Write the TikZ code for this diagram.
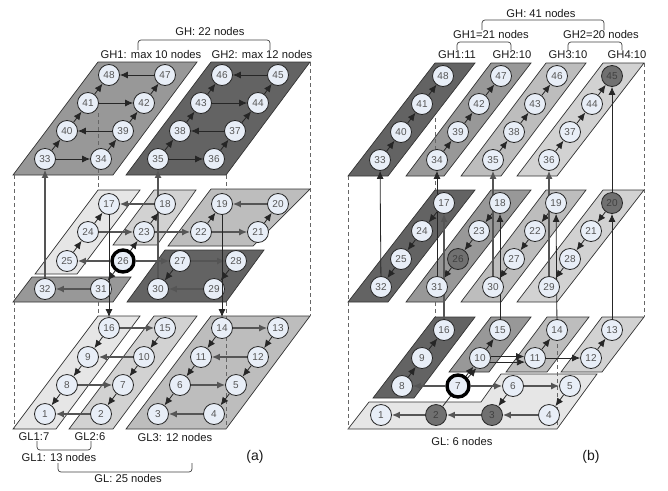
\documentclass[tikz,border=0pt]{standalone}
\usepackage{fontspec}
\setmainfont{Liberation Sans}
\usetikzlibrary{arrows.meta,backgrounds}
\definecolor{PlateLight}{HTML}{E6E6E6}
\definecolor{PlateSoft}{HTML}{D2D2D2}
\definecolor{PlateMid}{HTML}{BDBDBD}
\definecolor{PlateDeep}{HTML}{989898}
\definecolor{PlateDark}{HTML}{636363}
\definecolor{CellBlue}{HTML}{E8EEF7}
\definecolor{CellDark}{HTML}{707070}
\definecolor{InkGray}{HTML}{555555}

\begin{document}
\begin{tikzpicture}[
  x=1pt, y=-1pt,
  cell/.style={circle, draw=black!85, fill=CellBlue, line width=.8pt, minimum size=21pt, inner sep=0pt, text=InkGray, font=\fontsize{10}{11}\selectfont},
  darkcell/.style={cell, fill=CellDark, text=black!75},
  startcell/.style={cell, draw=black, line width=3.4pt, minimum size=22pt},
  plate/.style={draw=black!80, line width=.7pt},
  guide/.style={draw=black!60, line width=.7pt, dash pattern=on 4pt off 3pt},
  arr/.style={draw=black!85, line width=.8pt, -{Latex[length=8pt,width=7pt]}},
  hop/.style={draw=InkGray, line width=1.3pt, -{Latex[length=8pt,width=7pt]}},
  brk/.style={draw=black!75, line width=.7pt, rounded corners=3pt},
  lab/.style={inner sep=0pt, text=black!90, font=\fontsize{11.2}{12}\selectfont},
  panelcap/.style={inner sep=0pt, text=black!90, font=\fontsize{14}{15}\selectfont}
]
\useasboundingbox (0,0) rectangle (668,490);

% (a) top layer
\node[cell] (a48) at (109,75) {48}; \node[cell] (a47) at (165,75) {47}; \node[cell] (a46) at (222,75) {46}; \node[cell] (a45) at (278,75) {45};
\node[cell] (a41) at (88,103) {41}; \node[cell] (a42) at (144,103) {42}; \node[cell] (a43) at (201,103) {43}; \node[cell] (a44) at (258,103) {44};
\node[cell] (a40) at (67,131) {40}; \node[cell] (a39) at (123,131) {39}; \node[cell] (a38) at (180,131) {38}; \node[cell] (a37) at (235,131) {37};
\node[cell] (a33) at (45,159) {33}; \node[cell] (a34) at (101,159) {34}; \node[cell] (a35) at (158,159) {35}; \node[cell] (a36) at (214,159) {36};
% (a) middle layer
\node[cell] (a17) at (109,204) {17}; \node[cell] (a18) at (165,204) {18}; \node[cell] (a19) at (222,204) {19}; \node[cell] (a20) at (278,204) {20};
\node[cell] (a24) at (88,232) {24}; \node[cell] (a23) at (144,232) {23}; \node[cell] (a22) at (201,232) {22}; \node[cell] (a21) at (258,232) {21};
\node[cell] (a25) at (67,261) {25}; \node[startcell] (a26) at (123,261) {26}; \node[cell] (a27) at (180,261) {27}; \node[cell] (a28) at (236,261) {28};
\node[cell] (a32) at (45,289) {32}; \node[cell] (a31) at (101,289) {31}; \node[cell] (a30) at (158,289) {30}; \node[cell] (a29) at (214,289) {29};
% (a) bottom layer
\node[cell] (a16) at (109,328) {16}; \node[cell] (a15) at (165,328) {15}; \node[cell] (a14) at (222,328) {14}; \node[cell] (a13) at (278,328) {13};
\node[cell] (a9) at (88,357) {9}; \node[cell] (a10) at (144,357) {10}; \node[cell] (a11) at (201,357) {11}; \node[cell] (a12) at (258,357) {12};
\node[cell] (a8) at (67,385) {8}; \node[cell] (a7) at (123,385) {7}; \node[cell] (a6) at (180,385) {6}; \node[cell] (a5) at (236,385) {5};
\node[cell] (a1) at (45,414) {1}; \node[cell] (a2) at (101,414) {2}; \node[cell] (a3) at (158,414) {3}; \node[cell] (a4) at (214,414) {4};

% (b) top layer
\node[cell] (b48) at (443,76) {48}; \node[cell] (b47) at (501,76) {47}; \node[cell] (b46) at (557,76) {46}; \node[darkcell] (b45) at (612,76) {45};
\node[cell] (b41) at (422,104) {41}; \node[cell] (b42) at (479,104) {42}; \node[cell] (b43) at (535,104) {43}; \node[cell] (b44) at (592,104) {44};
\node[cell] (b40) at (401,132) {40}; \node[cell] (b39) at (458,132) {39}; \node[cell] (b38) at (514,132) {38}; \node[cell] (b37) at (570,132) {37};
\node[cell] (b33) at (380,160) {33}; \node[cell] (b34) at (437,160) {34}; \node[cell] (b35) at (493,160) {35}; \node[cell] (b36) at (549,160) {36};
% (b) middle layer
\node[cell] (b17) at (444,203) {17}; \node[cell] (b18) at (500,203) {18}; \node[cell] (b19) at (556,203) {19}; \node[darkcell] (b20) at (612,203) {20};
\node[cell] (b24) at (422,231) {24}; \node[cell] (b23) at (479,231) {23}; \node[cell] (b22) at (535,231) {22}; \node[cell] (b21) at (591,231) {21};
\node[cell] (b25) at (401,259) {25}; \node[darkcell] (b26) at (458,259) {26}; \node[cell] (b27) at (514,259) {27}; \node[cell] (b28) at (570,259) {28};
\node[cell] (b32) at (381,287) {32}; \node[cell] (b31) at (437,287) {31}; \node[cell] (b30) at (493,287) {30}; \node[cell] (b29) at (549,287) {29};
% (b) bottom layer
\node[cell] (b16) at (444,330) {16}; \node[cell] (b15) at (500,330) {15}; \node[cell] (b14) at (557,330) {14}; \node[cell] (b13) at (612,330) {13};
\node[cell] (b9) at (422,358) {9}; \node[cell] (b10) at (480,358) {10}; \node[cell] (b11) at (535,358) {11}; \node[cell] (b12) at (591,358) {12};
\node[cell] (b8) at (402,386) {8}; \node[startcell] (b7) at (458,386) {7}; \node[cell] (b6) at (513,386) {6}; \node[cell] (b5) at (570,386) {5};
\node[cell] (b1) at (381,415) {1}; \node[darkcell] (b2) at (436,415) {2}; \node[darkcell] (b3) at (492,415) {3}; \node[cell] (b4) at (549,415) {4};

% labels
\node[lab] (gha) at (210,31) {GH: 22 nodes};
\node[lab] (gh1a) at (151,54) {GH1: max 10 nodes};
\node[lab] (gh2a) at (262,54) {GH2: max 12 nodes};
\node[lab] (gl1a) at (34,437) {GL1:7};
\node[lab] (gl2a) at (90,437) {GL2:6};
\node[lab] (gl3a) at (175,437) {GL3: 12 nodes};
\node[lab] (gl4a) at (59,457) {GL1: 13 nodes};
\node[lab] (gla) at (128,478) {GL: 25 nodes};
\node[panelcap] (capa) at (255,457) {(a)};
\node[lab] (ghb) at (541,13) {GH: 41 nodes};
\node[lab] (gh5b) at (491,34) {GH1=21 nodes};
\node[lab] (gh6b) at (601,34) {GH2=20 nodes};
\node[lab] (gh1b) at (457,55) {GH1:11};
\node[lab] (gh2b) at (512,55) {GH2:10};
\node[lab] (gh3b) at (568,55) {GH3:10};
\node[lab] (gh4b) at (627,55) {GH4:10};
\node[lab] (glb) at (462,441) {GL: 6 nodes};
\node[panelcap] (capb) at (591,457) {(b)};

% bracket ends
\coordinate (ba1) at (138,50); \coordinate (ba2) at (270,50);
\coordinate (ba3) at (37,441); \coordinate (ba4) at (91,441);
\coordinate (ba5) at (58,463); \coordinate (ba6) at (192,463);
\coordinate (bb1) at (482,30); \coordinate (bb2) at (604,30);
\coordinate (bb3) at (457,50); \coordinate (bb4) at (511,50);
\coordinate (bb5) at (568,50); \coordinate (bb6) at (622,50);
\draw[brk] (ba1) -- ++(0,-10) -| (ba2);
\draw[brk] (ba3) -- ++(0,9) -| (ba4);
\draw[brk] (ba5) -- ++(0,9) -| (ba6);
\draw[brk] (bb1) -- ++(0,-10) -| (bb2);
\draw[brk] (bb3) -- ++(0,-8) -| (bb4);
\draw[brk] (bb5) -- ++(0,-8) -| (bb6);

\begin{scope}[on background layer]
% plates of (a)
\filldraw[plate, fill=PlateDeep] (13,175) -- (113,175) -- (197,62) -- (98,62) -- cycle;
\filldraw[plate, fill=PlateDark] (126,175) -- (226,175) -- (310,62) -- (211,62) -- cycle;
\filldraw[plate, fill=PlateLight] (35,274) -- (77,274) -- (140,190) -- (98,190) -- cycle;
\filldraw[plate, fill=PlateSoft] (113,245) -- (157,245) -- (196,190) -- (154,190) -- cycle;
\filldraw[plate, fill=PlateMid] (168,246) -- (253,246) -- (310,189) -- (211,189) -- cycle;
\filldraw[plate, fill=PlateDark] (127,302) -- (226,302) -- (264,250) -- (165,250) -- cycle;
\filldraw[plate, fill=PlateDeep] (13,302) -- (113,302) -- (131,277) -- (32,277) -- cycle;
\filldraw[plate, fill=PlateLight] (13,429) -- (56,429) -- (140,316) -- (98,316) -- cycle;
\filldraw[plate, fill=PlateSoft] (69,429) -- (113,429) -- (197,316) -- (154,316) -- cycle;
\filldraw[plate, fill=PlateMid] (126,429) -- (226,429) -- (310,316) -- (211,316) -- cycle;
% plates of (b)
\filldraw[plate, fill=PlateDark] (348,176) -- (388,176) -- (475,63) -- (435,63) -- cycle;
\filldraw[plate, fill=PlateDeep] (406,176) -- (444,176) -- (531,63) -- (491,63) -- cycle;
\filldraw[plate, fill=PlateMid] (461,176) -- (501,176) -- (586,63) -- (546,63) -- cycle;
\filldraw[plate, fill=PlateSoft] (517,176) -- (557,176) -- (644,63) -- (603,63) -- cycle;
\filldraw[plate, fill=PlateDark] (348,302) -- (388,302) -- (475,190) -- (435,190) -- cycle;
\filldraw[plate, fill=PlateDeep] (406,302) -- (444,302) -- (531,190) -- (491,190) -- cycle;
\filldraw[plate, fill=PlateMid] (461,302) -- (501,302) -- (586,190) -- (546,190) -- cycle;
\filldraw[plate, fill=PlateSoft] (517,302) -- (557,302) -- (644,190) -- (603,190) -- cycle;
\filldraw[plate, fill=PlateDark] (373,398) -- (414,398) -- (475,317) -- (435,317) -- cycle;
\filldraw[plate, fill=PlateDeep] (449,372) -- (489,372) -- (531,317) -- (491,317) -- cycle;
\filldraw[plate, fill=PlateMid] (506,372) -- (547,372) -- (589,317) -- (547,317) -- cycle;
\filldraw[plate, fill=PlateSoft] (561,372) -- (602,372) -- (644,317) -- (602,317) -- cycle;
\filldraw[plate, fill=PlateLight] (348,429) -- (557,429) -- (597,374) -- (501,374) -- (481,402) -- (369,402) -- cycle;

% guides
\draw[guide] (14,175) -- (14,429);
\draw[guide] (98,113) -- (98,190);
\draw[guide] (98,302) -- (98,316);
\draw[guide] (226,175) -- (226,190);
\draw[guide] (226,302) -- (226,429);
\draw[guide] (310,62) -- (310,316);
\draw[guide] (348,176) -- (348,429);
\draw[guide] (435,118) -- (435,190);
\draw[guide] (435,302) -- (435,317);
\draw[guide] (557,337) -- (557,429);
\draw[guide] (644,63) -- (644,317);

% arrows of (a)
\draw[arr] (a33) -- (a34); \draw[arr] (a34) -- (a39); \draw[arr] (a39) -- (a40); \draw[arr] (a33) -- (a40);
\draw[arr] (a40) -- (a41); \draw[arr] (a41) -- (a48); \draw[arr] (a41) -- (a42); \draw[arr] (a39) -- (a42);
\draw[arr] (a42) -- (a47); \draw[arr] (a47) -- (a48);
\draw[arr] (a35) -- (a36); \draw[arr] (a36) -- (a37); \draw[arr] (a37) -- (a38); \draw[arr] (a35) -- (a38);
\draw[arr] (a38) -- (a43); \draw[arr] (a43) -- (a46); \draw[arr] (a43) -- (a44); \draw[arr] (a37) -- (a44);
\draw[arr] (a44) -- (a45); \draw[arr] (a45) -- (a46);
\draw[hop] (a32) -- (a33); \draw[hop] (a30) -- (a35);
\draw[arr] (a25) -- (a24); \draw[arr] (a24) -- (a17); \draw[hop] (a18) -- (a17); \draw[hop] (a24) -- (a23);
\draw[arr] (a26) -- (a23); \draw[arr] (a23) -- (a18); \draw[hop] (a23) -- (a22); \draw[hop] (a22) -- (a21);
\draw[arr] (a22) -- (a19); \draw[arr] (a21) -- (a20); \draw[hop] (a20) -- (a19);
\draw[hop] (a26) -- (a25); \draw[hop] (a26) -- (a27); \draw[hop] (a27) -- (a28); \draw[arr] (a28) -- (a29);
\draw[arr] (a27) -- (a30); \draw[hop] (a29) -- (a30); \draw[arr] (a26) -- (a31); \draw[hop] (a31) -- (a32);
\draw[hop] (a16) -- (a15); \draw[hop] (a14) -- (a13);
\draw[arr] (a16) -- (a9); \draw[arr] (a9) -- (a8); \draw[arr] (a8) -- (a1); \draw[hop] (a2) -- (a1);
\draw[arr] (a15) -- (a10); \draw[hop] (a10) -- (a9); \draw[arr] (a10) -- (a7); \draw[hop] (a8) -- (a7); \draw[arr] (a7) -- (a2);
\draw[arr] (a14) -- (a11); \draw[arr] (a11) -- (a6); \draw[arr] (a6) -- (a3); \draw[hop] (a4) -- (a3);
\draw[arr] (a13) -- (a12); \draw[hop] (a12) -- (a11); \draw[arr] (a12) -- (a5); \draw[hop] (a6) -- (a5); \draw[arr] (a5) -- (a4);

% arrows of (b)
\draw[arr] (b33) -- (b40); \draw[arr] (b40) -- (b41); \draw[arr] (b41) -- (b48);
\draw[arr] (b34) -- (b39); \draw[arr] (b39) -- (b42); \draw[arr] (b42) -- (b47);
\draw[arr] (b35) -- (b38); \draw[arr] (b38) -- (b43); \draw[arr] (b43) -- (b46);
\draw[arr] (b36) -- (b37); \draw[arr] (b37) -- (b44); \draw[arr] (b44) -- (b45);
\draw[arr] (b17) -- (b24); \draw[arr] (b24) -- (b25); \draw[arr] (b25) -- (b32);
\draw[arr] (b18) -- (b23); \draw[arr] (b23) -- (b26); \draw[arr] (b26) -- (b31);
\draw[arr] (b19) -- (b22); \draw[arr] (b22) -- (b27); \draw[arr] (b27) -- (b30);
\draw[arr] (b20) -- (b21); \draw[arr] (b21) -- (b28); \draw[arr] (b28) -- (b29);
\draw[arr] (b32) -- (b33); \draw[arr] (b31) -- (b34); \draw[hop] (b30) -- (b35); \draw[hop] (b29) -- (b36);
\draw[hop] (b16) -- (b17); \draw[arr] (b15) -- (b18); \draw[arr] (b14) -- (b19); \draw[arr] (b13) -- (b20); \draw[arr] (b20) -- (b45);
\draw[arr] (b8) -- (b9); \draw[arr] (b9) -- (b16); \draw[arr] (b10) -- (b15); \draw[arr] (b11) -- (b14); \draw[arr] (b12) -- (b13);
\draw[arr] (b2) -- (b10); \draw[arr] (b7.40) -- (b10.-110);
\draw[arr] (b10.8) -- (b11.172); \draw[arr] (b10.-22) -- (b11.-158); \draw[arr] (b11) -- (b12);
\draw[hop] (b7) -- (b8); \draw[hop] (b7) -- (b6); \draw[hop] (b6) -- (b5); \draw[arr] (b5) -- (b4); \draw[arr] (b6) -- (b3);
\draw[hop] (b4) -- (b3); \draw[hop] (b3) -- (b2); \draw[hop] (b2) -- (b1);
\end{scope}

% these two run over the nodes
\draw[arr] (a17) -- (a16);
\draw[arr] (a19) -- (a14);
\end{tikzpicture}
\end{document}
